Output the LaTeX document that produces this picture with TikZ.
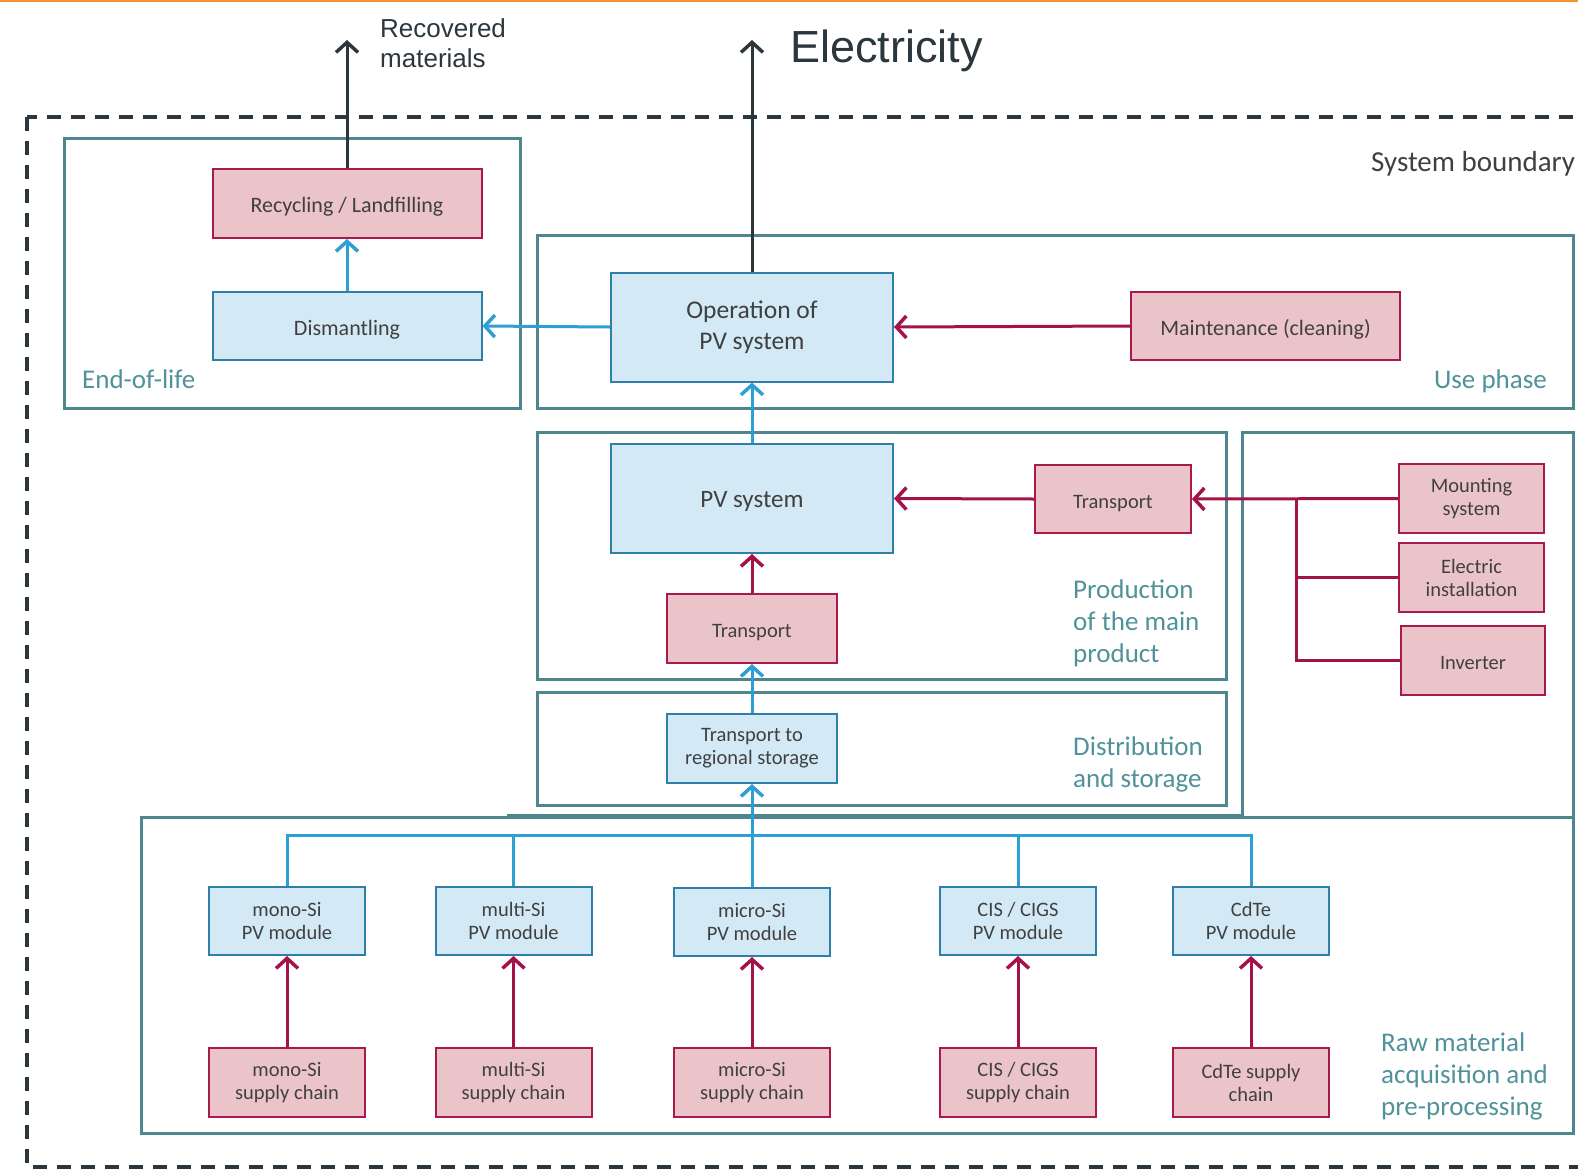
\documentclass[tikz,border=0pt]{standalone}
\usepackage{fontspec}
\setmainfont{Carlito}
\newfontfamily\arialfont{Liberation Sans}
\usetikzlibrary{arrows.meta}
\definecolor{cframe}{HTML}{4E868D}
\definecolor{clabel}{HTML}{4F9299}
\definecolor{cpinkfill}{HTML}{EBC4CA}
\definecolor{cpinkline}{HTML}{A8194C}
\definecolor{cbluefill}{HTML}{D3EAF6}
\definecolor{cblueline}{HTML}{2F7FA8}
\definecolor{cbluearrow}{HTML}{2E9FD4}
\definecolor{credarrow}{HTML}{A3134A}
\definecolor{cdark}{HTML}{2B373D}
\definecolor{cboxtext}{HTML}{404040}
\definecolor{ctop}{HTML}{F39330}

\begin{document}
\begin{tikzpicture}[x=1pt,y=-1pt,>={Straight Barb[length=10pt,width=22pt,line width=3.5pt]},
   pinkbox/.style={draw=cpinkline,fill=cpinkfill,line width=2pt,inner sep=0pt,align=center,text=cboxtext,font=\fontsize{20.5}{23}\selectfont},
   bluebox/.style={pinkbox,draw=cblueline,fill=cbluefill},
   oneline/.style={text height=21pt,text depth=3pt},
   phasebox/.style={draw=cframe,line width=3pt},
   phase/.style={text=clabel,font=\fontsize{27}{32}\selectfont,align=left,inner sep=0pt},
   blueflow/.style={draw=cbluearrow,line width=3pt},
   redflow/.style={draw=credarrow,line width=3pt},
   outflow/.style={draw=cdark,line width=3pt}]
   \useasboundingbox (0,0) rectangle (1578,1170);
   \clip (0,0) rectangle (1578,1170);
   \draw[draw=ctop,line width=2.5pt] (0,1) -- (1578,1);

   % 枠
   \draw[draw=cdark,line width=3.5pt,dash pattern=on 14pt off 10pt] (27,117) rectangle (1610,1167);
   \draw[phasebox] (64,138) rectangle (520,408);
   \draw[phasebox] (537,235) rectangle (1573,408);
   \draw[phasebox] (537,432) rectangle (1226,679);
   \draw[phasebox] (537,692) rectangle (1226,805);
   \draw[phasebox] (1242,432) rectangle (1573,817);
   \draw[phasebox] (141,817) rectangle (1573,1133);
   \draw[phasebox] (507,815) -- (1242,815);

   \node[anchor=base west,text=cboxtext,font=\fontsize{29}{32}\selectfont,inner sep=0pt] (sysb) at (1371,171) {System boundary};
   \node[phase,anchor=base west] (eollabel) at (82,388) {End-of-life};
   \node[phase,anchor=base east] (uselabel) at (1547,388) {Use phase};
   \node[phase,anchor=west] (prodlabel) at (1073,623) {Production\\of the main\\product};
   \node[phase,anchor=west] (distlabel) at (1073,764) {Distribution\\and storage};
   \node[phase,anchor=west] (rawlabel) at (1381,1076) {Raw material\\acquisition and\\pre-processing};

   % 出力
   \node[anchor=west,align=left,inner sep=0pt,text=cdark,font=\arialfont\fontsize{26}{30}\selectfont] (rectext) at (380,43) {Recovered\\materials};
   \node[anchor=base west,inner sep=0pt,text=cdark,font=\arialfont\fontsize{45}{50}\selectfont] (electext) at (790,62) {Electricity};
   \coordinate (recout) at (347,40);
   \coordinate (elecout) at (752,40);

   % プロセス
   \node[pinkbox,oneline,minimum width=269pt,minimum height=69pt,font=\fontsize{22}{26}\selectfont] (recyc) at (347,203.5) {Recycling / Landfilling};
   \node[bluebox,oneline,minimum width=269pt,minimum height=68pt,font=\fontsize{22}{26}\selectfont] (dismant) at (347,326) {Dismantling};
   \node[bluebox,minimum width=282pt,minimum height=109pt,font=\fontsize{25.5}{31}\selectfont] (oper) at (752,327) {Operation of\\PV system};
   \node[pinkbox,oneline,minimum width=269pt,minimum height=68pt,font=\fontsize{22}{26}\selectfont] (maint) at (1265.5,326) {Maintenance (cleaning)};
   \node[bluebox,oneline,minimum width=282pt,minimum height=109pt,font=\fontsize{25}{31}\selectfont] (pvsys) at (752,498.5) {PV system};
   \node[pinkbox,oneline,minimum width=156pt,minimum height=68pt] (transA) at (1113,499) {Transport};
   \node[pinkbox,oneline,minimum width=170pt,minimum height=69pt] (transB) at (752,628.5) {Transport};
   \node[bluebox,minimum width=170pt,minimum height=69pt] (transC) at (752,748.5) {Transport to\\regional storage};
   \node[pinkbox,minimum width=145pt,minimum height=69pt] (mount) at (1471.5,498.5) {Mounting\\system};
   \node[pinkbox,minimum width=145pt,minimum height=69pt] (elec) at (1471.5,577.5) {Electric\\installation};
   \node[pinkbox,oneline,minimum width=144pt,minimum height=69pt] (inv) at (1473,660.5) {Inverter};
   \coordinate (jn) at (1296,499);

   % モジュール
   \node[bluebox,minimum width=156pt,minimum height=68pt] (mono) at (287,921) {mono-Si\\PV module};
   \node[bluebox,minimum width=156pt,minimum height=68pt] (multi) at (513.5,921) {multi-Si\\PV module};
   \node[bluebox,minimum width=156pt,minimum height=68pt] (micro) at (752,922) {micro-Si\\PV module};
   \node[bluebox,minimum width=156pt,minimum height=68pt] (cis) at (1018,921) {CIS / CIGS\\PV module};
   \node[bluebox,minimum width=156pt,minimum height=68pt] (cdte) at (1251,921) {CdTe\\PV module};
   \node[pinkbox,minimum width=156pt,minimum height=69pt] (monosc) at (287,1082.5) {mono-Si\\supply chain};
   \node[pinkbox,minimum width=156pt,minimum height=69pt] (multisc) at (513.5,1082.5) {multi-Si\\supply chain};
   \node[pinkbox,minimum width=156pt,minimum height=69pt] (microsc) at (752,1082.5) {micro-Si\\supply chain};
   \node[pinkbox,minimum width=156pt,minimum height=69pt] (cissc) at (1018,1082.5) {CIS / CIGS\\supply chain};
   \node[pinkbox,minimum width=156pt,minimum height=69pt] (cdtesc) at (1251,1082.5) {CdTe supply\\chain};
   \coordinate (bus) at (752,835);

   % 矢印
   \draw[outflow,->] (recyc.north) -- (recout);
   \draw[outflow,->] (oper.north) -- (elecout);
   \draw[blueflow,->] (dismant.north) -- (recyc.south);
   \draw[blueflow,->] (oper.west) -- (dismant.east);
   \draw[redflow,->] (maint.west) -- (oper.east);
   \draw[blueflow,->] (pvsys.north) -- (oper.south);
   \draw[redflow,->] (transA.west) -- (pvsys.east);
   \draw[redflow,->] (transB.north) -- (pvsys.south);
   \draw[blueflow,->] (transC.north) -- (transB.south);
   \draw[redflow,->] (mount.west) -- (transA.east);
   \draw[redflow] (elec.west) -| (jn);
   \draw[redflow] (inv.west) -| (jn);

   \draw[blueflow] (mono.north) |- (bus) -| (cdte.north);
   \draw[blueflow] (multi.north) -- (multi.north |- bus);
   \draw[blueflow] (cis.north) -- (cis.north |- bus);
   \draw[blueflow,->] (micro.north) -- (transC.south);
   \draw[redflow,->] (monosc.north) -- (mono.south);
   \draw[redflow,->] (multisc.north) -- (multi.south);
   \draw[redflow,->] (microsc.north) -- (micro.south);
   \draw[redflow,->] (cissc.north) -- (cis.south);
   \draw[redflow,->] (cdtesc.north) -- (cdte.south);
\end{tikzpicture}
\end{document}
